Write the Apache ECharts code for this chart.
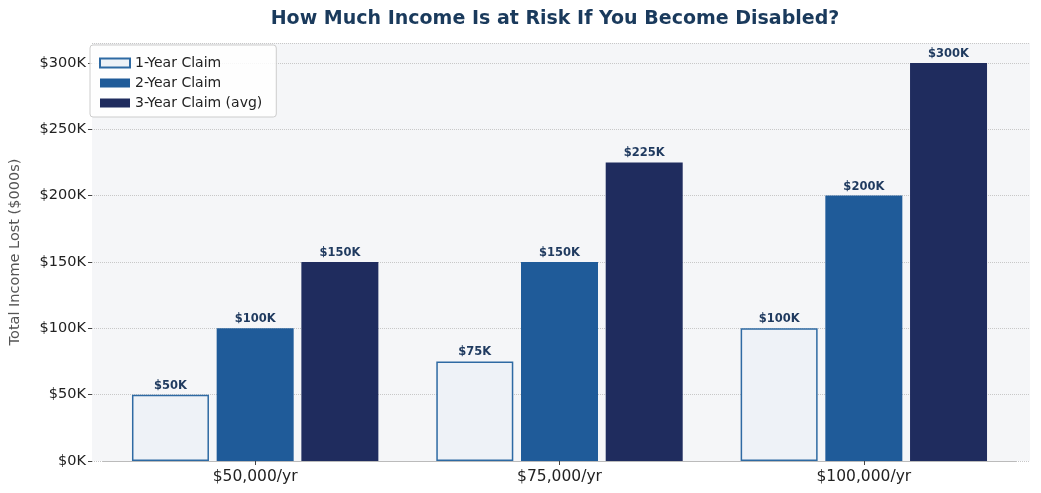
<!DOCTYPE html>
<html>
<head>
<meta charset="utf-8">
<script src="https://cdn.jsdelivr.net/npm/echarts@6/dist/echarts.min.js"></script>
<style>
html, body { margin: 0; padding: 0; background: #fff; }
#main { width: 1041px; height: 493px; }
</style>
</head>
<body>
<div id="main"></div>
<script>
// data (in $K)
var categories = ['$50,000/yr', '$75,000/yr', '$100,000/yr'];
var seriesNames = ['1-Year Claim', '2-Year Claim', '3-Year Claim (avg)'];
var oneYear = [50, 75, 100];
var twoYear = [100, 150, 200];
var threeYear = [150, 225, 300];

var fontFamily = '"DejaVu Sans", sans-serif';
var kFmt = function(v) { return '$' + v + 'K'; };

var labelStyle = {
	show: true,
	position: 'top',
	distance: 3,
	formatter: function(p) { return kFmt(p.value); },
	color: '#1f3a5f',
	fontWeight: 'bold',
	fontSize: 11.5,
	fontFamily: fontFamily
};

var myChart = echarts.init(document.getElementById('main'));

var option = {
	backgroundColor: '#ffffff',
	animation: false,
	title: {
		text: 'How Much Income Is at Risk If You Become Disabled?',
		left: 550,
		textAlign: 'center',
		top: 5,
		textStyle: {
			color: '#1a3a5c',
			fontSize: 19,
			fontWeight: 'bold',
			fontFamily: fontFamily
		}
	},
	legend: {
		orient: 'vertical',
		left: 90,
		top: 45,
		icon: 'rect',
		itemWidth: 30,
		itemHeight: 9,
		itemGap: 6,
		padding: [11, 14, 7, 9],
		backgroundColor: 'rgba(255,255,255,0.85)',
		borderColor: '#cccccc',
		borderWidth: 1,
		borderRadius: 3,
		data: seriesNames,
		textStyle: { fontSize: 14, color: '#222', fontFamily: fontFamily }
	},
	grid: [
		// full plot area: background, gridlines, y labels
		{ left: 86, right: 11, top: 43, bottom: 32, show: true, backgroundColor: '#f5f6f8', borderWidth: 0 },
		// bar area
		{ left: 103, right: 25, top: 43, bottom: 32 }
	],
	xAxis: [
		{ type: 'category', gridIndex: 0, data: categories, show: false },
		{
			type: 'category',
			gridIndex: 1,
			data: categories,
			axisLine: { show: true, lineStyle: { color: '#bbbbbb', width: 1 } },
			axisTick: { show: true, alignWithLabel: true, length: 4, lineStyle: { color: '#444' } },
			axisLabel: { fontSize: 15.5, color: '#222', margin: 8, fontFamily: fontFamily }
		}
	],
	yAxis: [
		{
			type: 'value',
			gridIndex: 0,
			min: 0,
			max: 315,
			interval: 50,
			name: 'Total Income Lost ($000s)',
			nameLocation: 'middle',
			nameGap: 69,
			nameTextStyle: { fontSize: 14.5, color: '#555', fontFamily: fontFamily },
			axisLine: { show: false },
			axisTick: { show: true, length: 4, lineStyle: { color: '#444' } },
			axisLabel: { formatter: kFmt, fontSize: 14.5, color: '#222', margin: 6, fontFamily: fontFamily, showMaxLabel: false },
			splitLine: { show: true, lineStyle: { color: '#c8c8c8', type: 'dotted', width: 1 } }
		},
		{
			type: 'value',
			gridIndex: 1,
			min: 0,
			max: 315,
			interval: 50,
			show: false,
			splitLine: { show: false }
		}
	],
	series: [
		{
			name: seriesNames[0],
			type: 'bar',
			xAxisIndex: 1,
			yAxisIndex: 1,
			data: oneYear,
			barWidth: 77,
			barGap: '10%',
			itemStyle: { color: '#eef2f7', borderColor: '#2e6aa3', borderWidth: 1.5 },
			label: labelStyle
		},
		{
			name: seriesNames[1],
			type: 'bar',
			xAxisIndex: 1,
			yAxisIndex: 1,
			data: twoYear,
			barWidth: 77,
			barGap: '10%',
			itemStyle: { color: '#1f5b99' },
			label: labelStyle
		},
		{
			name: seriesNames[2],
			type: 'bar',
			xAxisIndex: 1,
			yAxisIndex: 1,
			data: threeYear,
			barWidth: 77,
			barGap: '10%',
			itemStyle: { color: '#1f2c5e' },
			label: labelStyle
		}
	]
};

myChart.setOption(option);
</script>
</body>
</html>
